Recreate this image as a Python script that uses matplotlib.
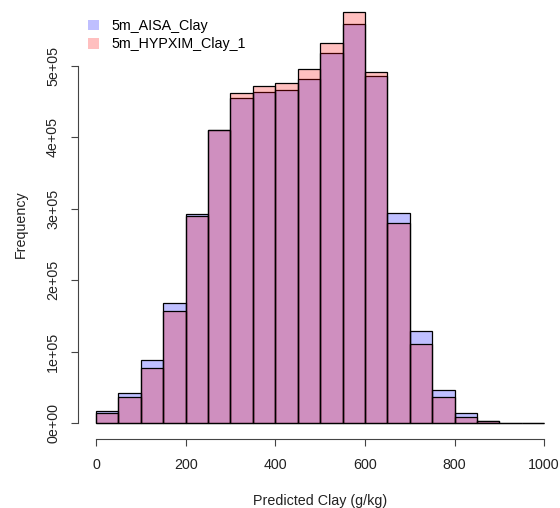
import numpy as np
import matplotlib.pyplot as plt
from matplotlib.patches import Patch

plt.rcParams['font.family'] = ['Liberation Sans', 'DejaVu Sans']

# histogram bins (g/kg) and counts
edges = np.arange(0, 1050, 50)
aisa = [17000, 41600, 88200, 167600, 292000, 410000, 454800, 464000, 466400, 481800,
        517800, 558800, 486400, 294500, 128900, 46200, 13600, 3000, 200, 100]
hypxim = [14500, 36800, 77500, 156900, 290000, 410000, 461800, 472000, 475800, 495000,
          531800, 576000, 492000, 280500, 110600, 36000, 8800, 2500, 200, 100]
labels = ['5m_AISA_Clay', '5m_HYPXIM_Clay_1']
yticks = [0, 100000, 200000, 300000, 400000, 500000]
ytick_labels = ['0e+00', '1e+05', '2e+05', '3e+05', '4e+05', '5e+05']

blue = (0, 0, 1, 0.25)
red = (1, 0, 0, 0.25)

fig = plt.figure(figsize=(5.6, 5.08), dpi=100)
ax = fig.add_axes([78.1 / 560, (508 - 438.7) / 508, 484 / 560, 437.1 / 508])

ax.bar(edges[:-1], aisa, width=50, align='edge', color=blue, edgecolor='black', linewidth=0.9)
ax.bar(edges[:-1], hypxim, width=50, align='edge', color=red, edgecolor='black', linewidth=0.9)

ax.set_xlim(-40, 1040)
ax.set_ylim(-22000, 590000)

for s in ['top', 'right']:
    ax.spines[s].set_visible(False)
ax.spines['left'].set_bounds(0, 500000)
ax.spines['bottom'].set_bounds(0, 1000)
ax.spines['left'].set_color('#444444')
ax.spines['bottom'].set_color('#444444')

ax.set_xticks(np.arange(0, 1200, 200))
ax.set_yticks(yticks)
ax.set_yticklabels(ytick_labels, rotation=90, va='center')
ax.tick_params(axis='both', length=5, color='#444444', labelsize=10.3, labelcolor='#222222')
ax.tick_params(axis='y', pad=8)
ax.tick_params(axis='x', pad=9)

ax.set_xlabel('Predicted Clay (g/kg)', fontsize=10.3, color='#222222', labelpad=16)
ax.set_ylabel('Frequency', fontsize=10.3, color='#222222')
ax.yaxis.set_label_coords(-0.103, 0.49)

handles = [Patch(facecolor=blue, edgecolor='none'), Patch(facecolor=red, edgecolor='none')]
fig.legend(handles, labels, loc='upper left', bbox_to_anchor=(88 / 560, 1 - 19 / 508),
           frameon=False, fontsize=10.3, handlelength=0.75, handleheight=0.75,
           handletextpad=0.9, labelspacing=0.3, borderpad=0, borderaxespad=0)

fig.savefig('out.png', dpi=100)
